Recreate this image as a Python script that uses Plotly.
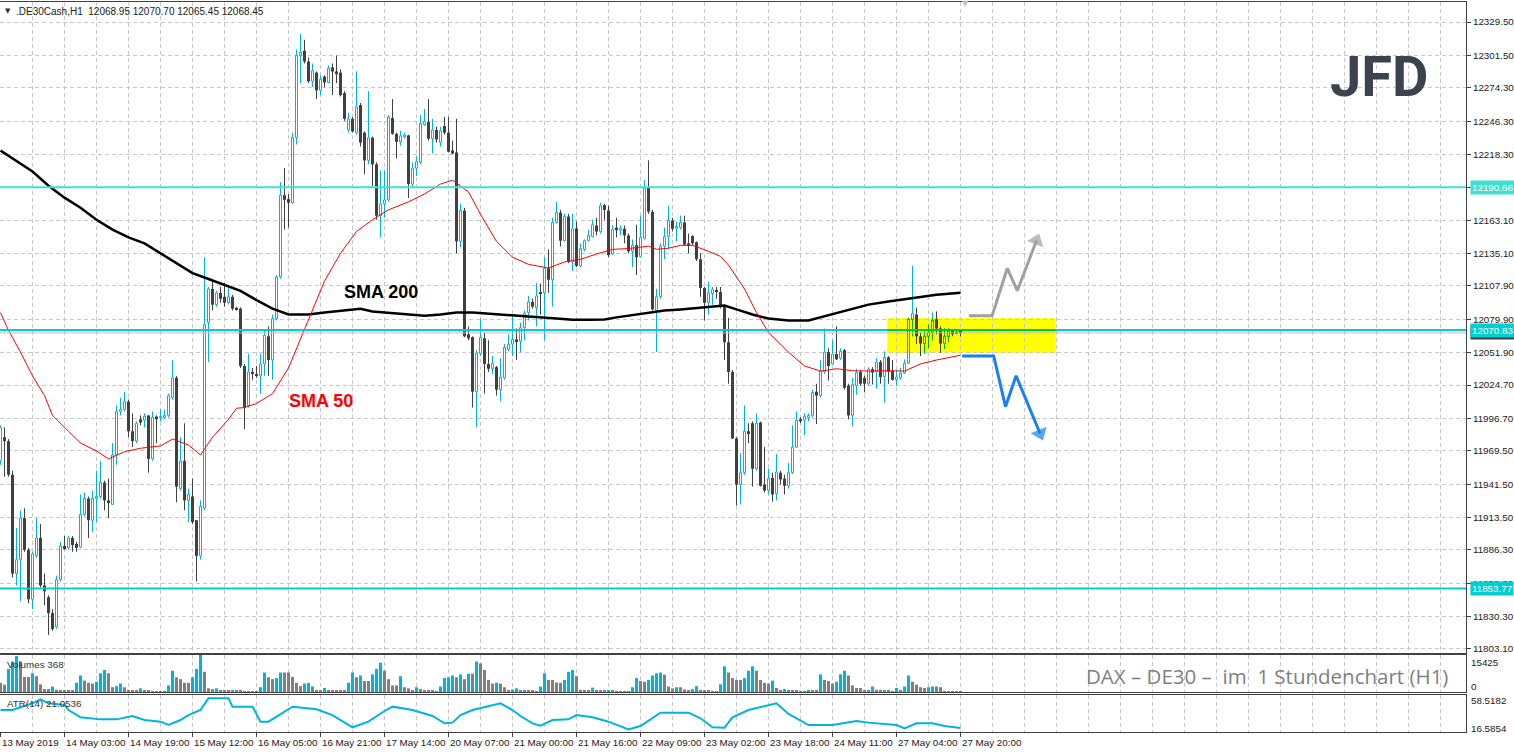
import plotly.graph_objects as go

# ---------------- data ----------------
bars = list(range(241))

opens = [
11961.0,11980.9,11977.6,11949.4,11866.4,11878.0,11912.9,11886.3,11844.8,11881.3,
11896.3,11856.4,11846.5,11833.2,11821.6,11861.4,11889.6,11888.0,11896.3,11891.3,
11888.6,11916.2,11929.5,11911.2,11929.5,11931.1,11942.8,11927.8,11924.5,11966.0,
12002.5,12004.2,12010.8,11985.9,11977.6,11995.9,11995.2,11999.2,11962.7,11998.2,
11997.2,11997.5,11999.2,12014.1,12030.7,11937.8,11961.0,11927.8,11931.1,11911.2,
11881.3,11921.2,12077.2,12105.4,12092.2,12102.1,12098.8,12093.8,12098.8,12089.5,
12088.8,12040.7,12007.5,12035.7,12033.4,12032.4,12042.4,12065.6,12045.7,12080.5,
12115.4,12184.1,12180.8,12177.8,12232.6,12301.3,12305.3,12296.3,12279.7,12287.0,
12272.1,12283.7,12278.7,12291.4,12288.0,12287.0,12269.8,12238.9,12248.2,12236.6,
12259.8,12236.6,12213.3,12232.3,12210.0,12166.9,12176.8,12180.2,12248.9,12235.6,
12228.9,12233.3,12234.3,12193.4,12206.7,12211.7,12243.2,12245.5,12231.6,12238.9,
12228.3,12242.2,12236.6,12221.6,12220.0,12145.3,12171.2,12067.3,12064.9,12019.1,
12051.3,12063.9,12042.4,12038.4,12039.7,12020.8,12030.7,12054.6,12059.0,12063.0,
12061.6,12072.9,12085.5,12094.5,12089.5,12102.8,12102.1,12122.7,12113.1,12161.2,
12169.5,12145.9,12166.2,12128.0,12156.2,12124.7,12138.6,12145.9,12149.3,12158.6,
12153.6,12175.8,12171.2,12134.7,12156.9,12154.6,12155.9,12150.3,12137.0,12142.0,
12132.7,12147.9,12190.1,12170.2,12087.2,12098.8,12141.3,12149.3,12162.9,12156.2,
12156.9,12161.2,12143.6,12149.9,12144.6,12130.3,12106.1,12093.8,12101.5,12104.4,
12102.8,12090.5,12060.6,12035.7,11979.9,11941.1,11951.1,11985.9,11992.6,11954.4,
11993.2,11941.1,11936.1,11946.7,11933.5,11951.1,11946.1,11940.1,11951.1,11972.6,
11995.9,11995.2,11997.5,11999.2,12019.1,12015.8,12035.7,12052.3,12042.4,12050.7,
12047.3,12054.0,12024.1,11999.2,12024.1,12035.7,12030.7,12025.8,12038.0,12035.7,
12044.0,12031.7,12048.0,12036.4,12029.1,12030.7,12034.7,12043.0,12079.9,12083.9,
12065.6,12059.6,12065.6,12068.9,12079.9,12072.2,12059.6,12065.6,12069.9,12068.2,
12068.95]

highs = [
11990.9,11989.2,11979.3,11952.7,11904.6,11919.5,11921.2,11888.0,11884.7,11912.9,
11907.9,11866.4,11848.1,11836.5,11864.7,11893.0,11897.9,11897.9,11897.9,11893.0,
11932.8,11934.5,11931.1,11936.1,11952.7,11961.0,11944.4,11946.1,11975.9,12007.5,
12014.1,12019.1,12012.5,12000.9,11994.2,11999.2,12000.9,11999.2,12002.5,11999.2,
12004.2,12004.2,12017.5,12045.7,12032.4,11980.9,11992.6,11937.8,11946.1,11911.2,
11927.8,12132.0,12107.1,12112.1,12103.8,12107.1,12110.4,12108.8,12100.5,12090.5,
12089.9,12042.4,12050.7,12039.0,12040.7,12050.7,12070.6,12073.9,12083.9,12117.1,
12195.1,12206.7,12185.1,12236.6,12306.3,12319.6,12314.6,12299.7,12294.7,12288.0,
12284.7,12284.7,12293.0,12294.7,12301.3,12289.7,12271.4,12253.2,12249.9,12288.0,
12261.5,12237.5,12271.4,12233.3,12211.7,12205.0,12205.0,12251.5,12264.8,12236.6,
12238.2,12236.6,12234.9,12211.7,12216.7,12251.5,12256.5,12264.8,12248.2,12241.6,
12241.6,12249.9,12249.9,12229.9,12248.2,12176.8,12173.5,12073.9,12065.6,12054.0,
12080.5,12068.9,12062.3,12049.0,12040.7,12047.3,12059.0,12067.3,12082.2,12072.2,
12077.2,12087.2,12099.5,12097.1,12110.4,12109.8,12132.0,12138.6,12165.2,12178.5,
12171.8,12168.5,12168.5,12168.5,12161.9,12143.6,12146.9,12155.2,12163.5,12165.2,
12177.8,12176.8,12175.2,12158.6,12165.2,12158.6,12158.6,12151.9,12146.9,12159.2,
12166.9,12196.7,12213.3,12171.8,12105.4,12143.6,12156.9,12175.2,12165.2,12161.9,
12166.9,12166.9,12151.9,12150.3,12145.3,12135.3,12107.1,12111.4,12107.1,12107.1,
12107.1,12092.2,12081.2,12037.4,11980.9,11967.7,12007.5,11992.6,11994.2,12000.9,
11994.0,11972.6,11954.4,11951.1,11966.7,11952.7,11949.4,11959.4,11990.9,12002.5,
11997.5,12000.9,12000.9,12020.8,12025.8,12045.7,12072.2,12055.6,12062.3,12073.9,
12055.6,12055.0,12025.8,12030.7,12038.4,12037.4,12032.4,12039.7,12039.7,12047.3,
12045.7,12053.0,12049.0,12045.7,12037.4,12039.0,12046.3,12081.5,12124.7,12089.8,
12068.9,12070.6,12075.6,12085.5,12086.5,12073.9,12072.2,12072.2,12071.6,12070.6,
12070.70]

lows = [
11957.7,11947.7,11947.7,11863.1,11856.4,11843.2,11884.7,11841.5,11836.5,11879.7,
11854.8,11839.8,11814.9,11818.3,11819.9,11859.8,11886.3,11886.3,11884.7,11884.7,
11888.0,11914.5,11896.3,11901.3,11909.6,11929.5,11919.5,11912.9,11924.5,11957.7,
11999.2,12002.5,11980.9,11972.6,11975.9,11990.9,11989.2,11951.1,11961.0,11975.9,
11994.2,11995.9,11997.5,12012.5,11926.2,11936.1,11919.5,11909.6,11907.9,11859.8,
11878.0,11919.5,12044.0,12087.2,12090.5,12093.8,12090.5,12092.2,12087.2,12087.2,
12039.0,11987.6,12005.8,12029.1,12030.7,12017.5,12032.4,12032.4,12029.1,12078.9,
12113.9,12155.2,12156.9,12176.8,12226.6,12278.1,12294.7,12278.1,12274.8,12264.8,
12268.1,12274.8,12278.1,12268.1,12278.1,12267.0,12246.5,12236.6,12236.6,12234.9,
12225.0,12201.7,12210.0,12191.8,12163.5,12148.6,12165.2,12178.5,12234.9,12215.0,
12225.6,12231.6,12181.8,12190.1,12200.1,12210.0,12242.2,12229.9,12219.0,12228.3,
12225.0,12234.9,12220.0,12218.3,12135.3,12140.3,12064.9,12062.3,12005.8,11989.2,
12049.0,12017.5,12035.7,12034.1,12015.8,12010.8,12029.1,12053.0,12049.0,12045.7,
12052.3,12062.3,12078.9,12088.8,12073.9,12083.9,12062.3,12102.1,12090.5,12160.2,
12141.0,12145.3,12127.0,12120.4,12123.7,12123.7,12137.0,12145.3,12148.6,12150.3,
12151.9,12163.5,12132.0,12133.7,12148.6,12150.3,12143.6,12135.3,12123.7,12117.1,
12132.0,12146.9,12168.5,12087.2,12052.3,12097.1,12130.3,12138.6,12153.6,12145.3,
12155.2,12142.0,12135.3,12142.0,12128.7,12098.8,12078.9,12083.9,12092.2,12097.1,
12088.8,12045.7,12025.8,11979.3,11923.5,11924.5,11949.4,11975.9,11939.4,11952.7,
11939.4,11934.5,11932.8,11926.8,11927.8,11941.1,11932.8,11937.8,11950.1,11972.0,
11992.6,11982.6,11994.2,11997.5,11991.9,12014.1,12034.1,12028.4,12041.7,12045.7,
12045.7,12020.8,11995.9,11989.9,12016.5,12024.1,12018.5,12024.1,12025.1,12021.8,
12025.8,12009.8,12025.8,12028.4,12024.1,12029.1,12034.1,12042.4,12065.6,12059.0,
12049.0,12050.7,12055.6,12062.3,12067.3,12051.7,12055.0,12060.6,12065.6,12067.3,
12065.45]

closes = [
11989.2,11977.6,11949.4,11866.4,11878.0,11912.9,11886.3,11844.8,11883.0,11896.3,
11856.4,11851.5,11833.2,11819.9,11861.4,11889.6,11887.0,11896.3,11890.3,11888.0,
11916.2,11929.5,11911.2,11929.5,11931.1,11942.8,11927.8,11925.5,11966.0,12002.5,
12004.2,12010.8,11985.9,11977.6,11992.6,11993.2,11998.5,11962.7,11997.5,11995.9,
11998.2,11999.2,12015.8,12030.7,11939.4,11961.0,11927.8,11932.8,11909.6,11881.3,
11922.8,12075.6,12105.4,12092.2,12102.1,12097.1,12093.8,12098.8,12088.8,12088.2,
12040.7,12005.8,12035.7,12034.1,12032.4,12042.4,12066.6,12045.7,12080.5,12115.4,
12184.1,12180.2,12177.8,12232.6,12301.3,12304.0,12296.3,12279.7,12288.7,12272.1,
12281.4,12278.7,12290.7,12288.0,12285.7,12268.1,12248.2,12248.2,12237.6,12258.2,
12228.3,12213.3,12232.3,12210.0,12166.9,12176.8,12180.2,12249.9,12235.6,12228.9,
12233.9,12234.6,12193.4,12206.7,12212.3,12244.2,12245.9,12231.6,12238.9,12230.9,
12238.2,12236.6,12220.6,12219.0,12145.3,12171.2,12065.6,12063.9,12019.1,12051.3,
12064.6,12042.4,12038.4,12043.0,12020.8,12031.4,12056.3,12059.0,12063.0,12061.6,
12072.9,12084.9,12094.5,12090.5,12099.5,12101.5,12122.7,12113.1,12161.2,12169.5,
12145.9,12166.2,12128.0,12155.9,12124.7,12139.3,12145.9,12150.3,12159.2,12153.6,
12175.2,12171.8,12133.7,12155.2,12154.6,12155.9,12150.3,12137.0,12142.0,12132.0,
12148.6,12190.1,12170.2,12088.2,12098.8,12141.3,12149.3,12162.9,12155.9,12157.9,
12161.2,12142.6,12142.0,12143.6,12130.3,12106.1,12093.8,12102.1,12104.8,12103.1,
12090.5,12060.6,12035.7,11979.9,11941.1,11951.1,11985.9,11984.3,11954.4,11992.6,
11940.1,11936.1,11946.1,11932.8,11951.7,11945.4,11940.1,11951.1,11972.6,11995.2,
11994.2,11998.5,11999.2,12018.5,12015.8,12036.4,12052.3,12040.7,12050.7,12046.3,
12053.0,12022.4,11999.2,12025.1,12035.1,12025.8,12025.8,12038.0,12035.1,12044.0,
12031.4,12048.0,12035.7,12029.1,12031.4,12034.7,12043.0,12079.9,12084.9,12065.6,
12059.6,12065.6,12068.9,12078.9,12072.2,12059.6,12065.6,12069.9,12067.3,12068.9,
12068.45]

volumes = [
3825,3060,9639,12699,14994,12699,6273,6273,7803,6579,
3213,1224,1224,2295,918,918,459,459,459,3825,
6885,4743,3825,3519,4284,7803,9180,7803,1989,2448,
3519,1989,918,459,459,1530,459,459,95,153,
153,153,2754,8874,6120,5355,3825,3825,6120,9639,
15425,8415,1530,1224,1530,459,459,459,765,459,
459,153,95,153,153,1989,8109,6120,5355,5814,
8109,8109,8109,6273,3825,2448,3519,3825,2295,765,
459,1683,918,459,459,459,459,3825,8109,6120,
6885,4590,4590,7344,9639,12240,8874,5355,2754,2754,
6579,1989,1530,765,1989,1224,765,765,459,153,
2295,5814,6120,6885,6120,7344,5355,7650,7650,12699,
11934,9180,5049,3519,3825,3519,1989,765,1071,1530,
765,459,459,459,153,2295,7803,5049,5049,3978,
3825,5049,8415,9180,6579,918,765,765,1836,765,
765,459,765,459,153,95,95,95,1989,5814,
4590,4284,5049,6885,7803,8109,7191,2295,1530,1989,
1989,1071,765,1224,2448,765,765,459,153,95,
3213,10710,8109,5814,5049,5049,5814,8874,10710,8874,
5049,3825,3519,4743,1683,918,1224,765,765,459,
153,95,459,459,459,7344,5049,4590,3519,4284,
7344,8874,6885,2754,1683,1683,918,765,2295,918,
918,459,918,153,1683,459,2295,6885,4284,3060,
1989,1683,1989,2295,2295,1989,306,306,306,306,
368]

sma200_bar = [0,8,12,16,20,24,28,32,36,40,44,48,52,56,60,64,68,72,77,81,
              85,90,93,97,102,106,110,114,118,121,124,128,132,139,143,147,151,154,157,162,
              166,170,174,178,181,184,188,192,197,202,205,209,213,217,222,226,230,234,240]
sma200_val = [12221.6,12204.0,12192.0,12182.0,12173.5,12163.5,12155.2,12148.6,12143.6,12135.3,
              12127.0,12118.7,12113.7,12108.8,12103.8,12096.0,12088.8,12083.9,12083.9,12085.5,
              12087.2,12088.8,12086.5,12085.5,12083.9,12082.9,12083.9,12085.5,12085.5,12084.9,
              12083.9,12083.0,12082.2,12080.5,12079.5,12079.5,12079.8,12081.5,12082.9,12085.5,
              12087.2,12088.2,12089.5,12090.2,12091.5,12088.2,12083.9,12080.5,12078.9,12078.9,
              12081.5,12084.9,12088.8,12092.2,12094.8,12096.5,12098.8,12100.5,12102.1]

sma50_bar = [0,2,5,8,11,13,17,20,24,27,31,35,40,43,47,50,53,57,59,61,
             64,68,72,77,81,85,89,93,97,102,106,110,113,117,120,124,128,132,137,141,
             145,149,153,157,162,164,167,170,173,177,180,182,186,189,192,197,201,205,209,213,
             217,222,226,230,234,240]
sma50_val = [12085.5,12070.6,12052.3,12032.4,12015.8,11999.2,11985.9,11976.0,11969.3,11962.7,
             11968.7,11971.6,11973.6,11979.3,11974.3,11966.0,11980.9,11995.9,12005.2,12005.8,
             12009.2,12017.5,12039.0,12078.9,12112.0,12135.3,12153.6,12163.5,12171.8,12178.5,
             12185.1,12193.4,12196.7,12186.8,12168.0,12145.3,12132.0,12126.0,12123.0,12128.0,
             12130.3,12134.7,12138.6,12139.3,12141.3,12138.6,12139.6,12142.0,12142.0,12137.0,
             12132.7,12125.4,12105.4,12085.5,12068.9,12052.3,12040.7,12036.4,12038.4,12036.7,
             12036.4,12036.7,12036.4,12042.4,12045.7,12049.7]

atr_bar = [0,3,8,10,12,16,17,20,25,29,33,36,40,42,45,47,50,52,57,58,
           63,65,67,71,73,79,83,88,92,96,98,103,108,111,113,115,118,125,128,130,
           133,135,138,142,144,148,152,157,160,165,172,175,178,181,183,187,192,194,197,202,
           208,214,217,221,224,226,229,233,236,240]
atr_val = [41.5,41.5,49.1,53.6,49.1,47.2,41.5,33.2,30.9,30.9,
           34.7,30.2,28.3,24.5,30.2,35.8,41.5,54.7,54.7,45.3,
           45.3,28.3,28.3,39.6,45.3,42.3,35.8,21.9,28.3,40.4,
           45.3,41.5,34.7,26.4,27.2,35.8,41.5,49.1,41.5,34.7,
           26.4,23.8,30.2,30.9,35.8,33.2,28.3,19.6,23.4,38.5,
           38.5,32.1,21.9,21.5,33.2,41.5,47.2,49.1,37.0,24.5,
           24.5,29.0,27.2,25.3,24.5,20.7,26.4,26.4,23.4,21.0536]
atr_scale_max = 58.5182
atr_scale_min = 16.5854

price_ticks = [12329.50, 12301.50, 12274.30, 12246.30, 12218.30, 12190.30, 12163.10,
               12135.10, 12107.90, 12079.90, 12051.90, 12024.70, 11996.70, 11969.50,
               11941.50, 11913.50, 11886.30, 11858.30, 11830.30, 11803.10]
hidden_price_ticks = [12190.30]

time_tick_bars = [0, 16, 32, 48, 64, 80, 96, 112, 128, 144, 160, 176, 192, 208, 224, 240]
time_tick_labels = ["13 May 2019", "14 May 03:00", "14 May 19:00", "15 May 12:00",
                    "16 May 05:00", "16 May 21:00", "17 May 14:00", "20 May 07:00",
                    "21 May 00:00", "21 May 16:00", "22 May 09:00", "23 May 02:00",
                    "23 May 18:00", "24 May 11:00", "27 May 04:00", "27 May 20:00"]

levels = [12190.66, 12070.83, 11853.77]
level_colors = ['#40E0D0', '#00CED1', '#00CED1']
bid_price = 12068.45

zone_bars = [221.7, 263.75]
zone_prices = [12051.8, 12080.7]

up_path_bars = [242.1, 247.9, 251.7, 254.2, 259.0]
up_path_prices = [12082.9, 12082.9, 12122.7, 12103.9, 12146.0]
down_path_bars = [240.4, 248.3, 251.25, 253.9, 259.9]
down_path_prices = [12049.1, 12049.1, 12006.5, 12032.5, 11984.0]

# ---------------- geometry / style ----------------
W, H = 1514, 752
M_L, M_R, M_T, M_B = 0, 48, 2, 20
PW, PH = W - M_L - M_R, H - M_T - M_B


def fx(p):
    return p / PW


def fy(p):
    return (M_T + PH - p) / PH


X_RANGE = [-0.125, -0.125 + PW / 4.0]
Y_RANGE = [11799.7, 12346.3]
main_dom = [fy(653), 1.0]
vol_dom = [fy(692), fy(655)]
atr_dom = [0.0, fy(695)]

CYAN = '#00B4DC'
GREEN = '#00B400'
DARK = '#404040'
VGRAY = '#808080'
GRID = '#C8C8C8'
FRAME = '#404040'
TXT = '#202020'
FONT = 'Liberation Sans'
MIN_BODY = 0.9

fig = go.Figure()

is_bull = [c > o for o, c in zip(opens, closes)]
bull_ids = [i for i in bars if is_bull[i]]
bear_ids = [i for i in bars if not is_bull[i]]


def add_wicks(ids, color, split, xa='x', ya='y'):
    xs, ys = [], []
    for i in ids:
        top = max(opens[i], closes[i])
        bot = min(opens[i], closes[i])
        if split:
            xs += [i, i, None, i, i, None]
            ys += [lows[i], bot, None, top, highs[i], None]
        else:
            xs += [i, i, None]
            ys += [lows[i], highs[i], None]
    fig.add_trace(go.Scatter(x=xs, y=ys, mode='lines', line=dict(color=color, width=1),
                             hoverinfo='skip', showlegend=False, xaxis=xa, yaxis=ya))


def add_bodies(ids, fill, line_color, width, xa='x', ya='y'):
    base = [min(opens[i], closes[i]) for i in ids]
    hgt = [max(abs(closes[i] - opens[i]), MIN_BODY) for i in ids]
    line = dict(color=line_color, width=1) if line_color else dict(width=0)
    fig.add_trace(go.Bar(x=ids, y=hgt, base=base, width=width,
                         marker=dict(color=fill, line=line),
                         hoverinfo='skip', showlegend=False, xaxis=xa, yaxis=ya))


# main candles
add_bodies(bear_ids, DARK, None, 0.75)
add_bodies(bull_ids, 'white', CYAN, 0.5)
add_wicks(bear_ids, DARK, False)
add_wicks(bull_ids, CYAN, True)

# moving averages
fig.add_trace(go.Scatter(x=sma200_bar, y=sma200_val, mode='lines',
                         line=dict(color='black', width=2.5), hoverinfo='skip', showlegend=False))
fig.add_trace(go.Scatter(x=sma50_bar, y=sma50_val, mode='lines',
                         line=dict(color='#FF0000', width=1), hoverinfo='skip', showlegend=False))

# scenario arrows
for xs, ys, col in [(up_path_bars, up_path_prices, '#A0A0A0'),
                    (down_path_bars, down_path_prices, '#1A80F0')]:
    fig.add_trace(go.Scatter(x=xs, y=ys, mode='lines+markers',
                             line=dict(color=col, width=3),
                             marker=dict(symbol='triangle-up', angleref='previous', color=col,
                                         size=[0] * (len(xs) - 1) + [15],
                                         line=dict(width=0)),
                             hoverinfo='skip', showlegend=False))

# bull candles inside the yellow zone (clipped overlay -> green tint)
zone_bull = [i for i in bull_ids if zone_bars[0] - 1 <= i <= zone_bars[1]]
add_bodies(zone_bull, '#FFFF00', GREEN, 0.5, 'x4', 'y4')
add_wicks(zone_bull, GREEN, True, 'x4', 'y4')

# volumes
vol_colors = [VGRAY] + [CYAN if volumes[k] > volumes[k - 1] else VGRAY for k in range(1, len(volumes))]
fig.add_trace(go.Bar(x=bars, y=volumes, width=0.75, marker=dict(color=vol_colors, line=dict(width=0)),
                     hoverinfo='skip', showlegend=False, xaxis='x2', yaxis='y2'))

# ATR
fig.add_trace(go.Scatter(x=atr_bar, y=atr_val, mode='lines', line=dict(color=CYAN, width=2),
                         hoverinfo='skip', showlegend=False, xaxis='x3', yaxis='y3'))

# ---------------- shapes ----------------
shapes = [dict(type='rect', xref='x', yref='y', x0=zone_bars[0], x1=zone_bars[1],
               y0=zone_prices[0], y1=zone_prices[1], fillcolor='#FFFF00',
               line=dict(width=0), layer='below')]
shapes.append(dict(type='line', xref='paper', yref='y', x0=0, x1=1, y0=bid_price, y1=bid_price,
                   line=dict(color='#C0C0C0', width=1)))
for lv, col in zip(levels, level_colors):
    shapes.append(dict(type='line', xref='paper', yref='y', x0=0, x1=1, y0=lv, y1=lv,
                       line=dict(color=col, width=2)))
shapes.append(dict(type='line', xref='x', yref='y', x0=zone_bars[0], x1=zone_bars[1],
                   y0=levels[1], y1=levels[1], line=dict(color='#00CE00', width=2)))

# ---------------- annotations ----------------
ann = []
for b, lab in zip(time_tick_bars, time_tick_labels):
    ann.append(dict(x=b, y=fy(742), xref='x3', yref='paper', text=lab, showarrow=False,
                    xanchor='left', yanchor='middle', xshift=-1,
                    font=dict(family=FONT, size=9.8, color=TXT)))

# price boxes (bid first so the level box lies on top)
ann.append(dict(x=1, y=bid_price, xref='paper', yref='y', text=f"{bid_price:.2f}", showarrow=False,
                xanchor='left', yanchor='middle', xshift=4, bgcolor='#404040', borderpad=1,
                font=dict(family=FONT, size=9.8, color='white')))
for lv, col in zip(levels, level_colors):
    ann.append(dict(x=1, y=lv, xref='paper', yref='y', text=f"{lv:.2f}", showarrow=False,
                    xanchor='left', yanchor='middle', xshift=4, bgcolor=col, borderpad=1,
                    font=dict(family=FONT, size=9.8, color='white')))

# sub-window scale labels
for txt, yy in [(str(max(volumes)), 662), ("0", 686),
                (f"{atr_scale_max:.4f}", 700), (f"{atr_scale_min:.4f}", 728)]:
    ann.append(dict(x=1, y=fy(yy), xref='paper', yref='paper', text=txt, showarrow=False,
                    xanchor='left', yanchor='middle', xshift=3,
                    font=dict(family=FONT, size=9.8, color=TXT)))

ann.append(dict(x=fx(5), y=fy(664), xref='paper', yref='paper', text=f"Volumes {volumes[-1]}",
                showarrow=False, xanchor='left', yanchor='middle',
                font=dict(family=FONT, size=9.8, color='#333333')))
ann.append(dict(x=fx(5), y=fy(703), xref='paper', yref='paper', text=f"ATR(14) {atr_val[-1]:.4f}",
                showarrow=False, xanchor='left', yanchor='middle',
                font=dict(family=FONT, size=9.8, color='#333333')))

header = (".DE30Cash,H1&nbsp;&nbsp;" + f"{opens[-1]:.2f} {highs[-1]:.2f} {lows[-1]:.2f} {closes[-1]:.2f}")
ann.append(dict(x=fx(3), y=fy(11), xref='paper', yref='paper', text="▼", showarrow=False,
                xanchor='left', yanchor='middle', font=dict(family='DejaVu Sans', size=7, color='#303030')))
ann.append(dict(x=fx(14), y=fy(11), xref='paper', yref='paper', text=header, showarrow=False,
                xanchor='left', yanchor='middle', font=dict(family=FONT, size=10, color=TXT)))
ann.append(dict(x=fx(965), y=fy(3), xref='paper', yref='paper', text="▼", showarrow=False,
                xanchor='center', yanchor='middle', font=dict(family='DejaVu Sans', size=8, color='#C0C0C0')))

ann.append(dict(x=95.1, y=12102.6, xref='x', yref='y', text="<b>SMA 200</b>", showarrow=False,
                font=dict(family=FONT, size=18, color='black')))
ann.append(dict(x=80.0, y=12011.6, xref='x', yref='y', text="<b>SMA 50</b>", showarrow=False,
                font=dict(family=FONT, size=18, color='#FF0000')))

ann.append(dict(x=fx(1379), y=fy(77), xref='paper', yref='paper', text="<b>JFD</b>", showarrow=False,
                xanchor='center', yanchor='middle', font=dict(family='Roboto', size=56, color='#3A434E')))

ann.append(dict(x=fx(1450), y=fy(676), xref='paper', yref='paper',
                text="DAX – DE30 –&nbsp;&nbsp;im&nbsp;&nbsp;1 Stundenchart (H1)", showarrow=False,
                xanchor='right', yanchor='middle', font=dict(family='Open Sans', size=20.5, color='#808080')))

# ---------------- axes ----------------
grid_kw = dict(showgrid=True, gridcolor=GRID, griddash='4px,3px', gridwidth=1, zeroline=False)
minor_kw = dict(tickmode='linear', tick0=0, dtick=8, showgrid=True, gridcolor=GRID,
                griddash='4px,3px', gridwidth=1, ticks='')
frame_kw = dict(showline=True, linecolor=FRAME, linewidth=1, mirror=True)

xd = [(zone_bars[0] - X_RANGE[0]) / (X_RANGE[1] - X_RANGE[0]),
      (zone_bars[1] - X_RANGE[0]) / (X_RANGE[1] - X_RANGE[0])]
yd = [main_dom[0] + (zone_prices[k] - Y_RANGE[0]) / (Y_RANGE[1] - Y_RANGE[0]) * (main_dom[1] - main_dom[0])
      for k in range(2)]

fig.update_layout(
    width=W, height=H, autosize=False,
    margin=dict(l=M_L, r=M_R, t=M_T, b=M_B, pad=0),
    paper_bgcolor='white', plot_bgcolor='rgba(0,0,0,0)',
    barmode='overlay', showlegend=False, hovermode=False,
    xaxis=dict(domain=[0, 1], range=X_RANGE, anchor='y', tickmode='array', tickvals=time_tick_bars,
               showticklabels=False, ticks='', minor=minor_kw, **grid_kw, **frame_kw),
    xaxis2=dict(domain=[0, 1], matches='x', anchor='y2', tickmode='array', tickvals=time_tick_bars,
                showticklabels=False, ticks='', minor=minor_kw, **grid_kw, **frame_kw),
    xaxis3=dict(domain=[0, 1], matches='x', anchor='y3', tickmode='array', tickvals=time_tick_bars,
                showticklabels=False, ticks='outside', ticklen=4, tickcolor=FRAME,
                minor=minor_kw, **grid_kw, **frame_kw),
    yaxis=dict(domain=main_dom, range=Y_RANGE, anchor='x', side='right', tickmode='array',
               tickvals=price_ticks,
               ticktext=['' if v in hidden_price_ticks else f"{v:.2f}" for v in price_ticks],
               ticks='outside', ticklen=4, tickcolor=FRAME,
               tickfont=dict(family=FONT, size=9.8, color=TXT), **grid_kw, **frame_kw),
    yaxis2=dict(domain=vol_dom, range=[0, max(volumes)], anchor='x2', side='right',
                showticklabels=False, ticks='', showgrid=False, zeroline=False, **frame_kw),
    yaxis3=dict(domain=atr_dom, range=[atr_scale_min, atr_scale_max], anchor='x3', side='right',
                showticklabels=False, ticks='', showgrid=False, zeroline=False, **frame_kw),
    xaxis4=dict(domain=xd, range=zone_bars, anchor='y4', visible=False, showgrid=False),
    yaxis4=dict(domain=yd, range=zone_prices, anchor='x4', visible=False, showgrid=False),
    shapes=shapes, annotations=ann,
)

fig.write_html("out.html", config={'displayModeBar': False},
               post_script="document.body.style.margin='0';document.body.style.overflow='hidden';")
